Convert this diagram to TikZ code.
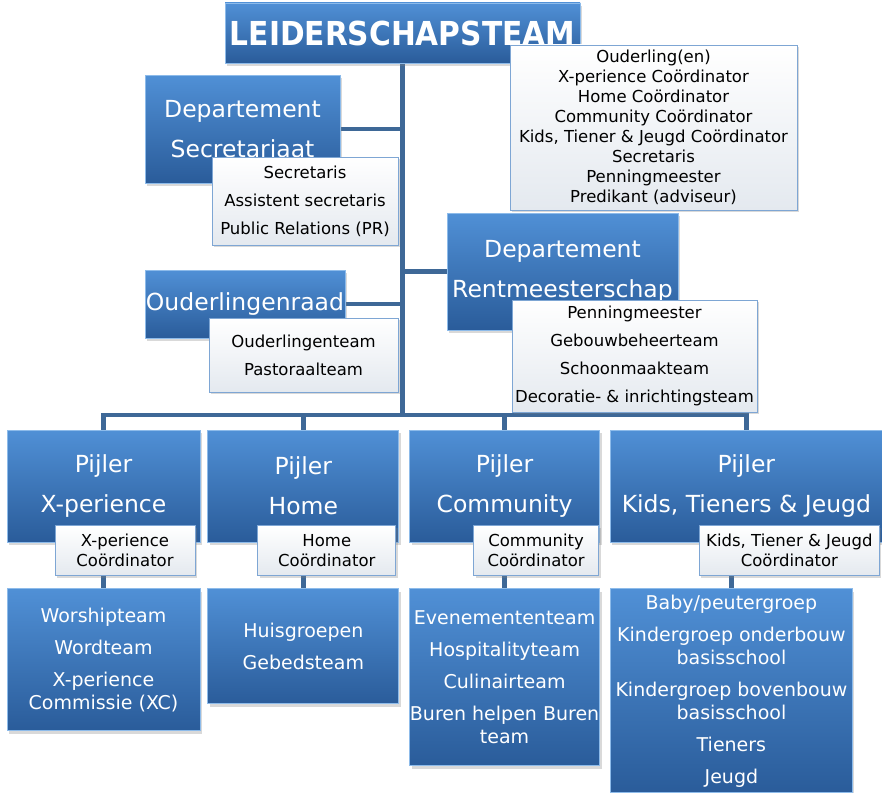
\documentclass[tikz,border=0pt]{standalone}
\usepackage{fontspec}
\setmainfont{DejaVu Sans}
\newfontfamily\smalfont{DejaVu Sans Condensed}
\usepackage{tikz}
\usetikzlibrary{positioning,shadows,backgrounds}
\definecolor{blueTop}{HTML}{5090D6}
\definecolor{blueBot}{HTML}{2A5C9A}
\definecolor{blueEdge}{HTML}{8DBBEA}
\definecolor{listBot}{HTML}{E4E9EF}
\definecolor{listEdge}{HTML}{7EA6D4}
\definecolor{lineCol}{HTML}{3E6897}

\begin{document}
\begin{tikzpicture}[x=1pt, y=1pt, node distance=7pt and 7pt,
  blok/.style={draw=blueEdge, line width=0.8pt, top color=blueTop, bottom color=blueBot,
    text=white, align=center, inner sep=0pt, font={\fontsize{23.5}{40}\selectfont},
    drop shadow={shadow xshift=2pt, shadow yshift=-3pt, opacity=0.3}},
  lijst/.style={draw=listEdge, line width=0.8pt, top color=white, bottom color=listBot,
    text=black, align=center, inner sep=0pt, font={\fontsize{16.5}{20}\selectfont},
    drop shadow={shadow xshift=2pt, shadow yshift=-2pt, opacity=0.3}},
  team/.style={blok, font={\fontsize{19}{23}\selectfont}},
  lijn/.style={line width=4.5pt, draw=lineCol, line join=miter}]
\useasboundingbox (0,0) rectangle (882,-792);
% top
\node[blok, minimum width=355pt, minimum height=60pt, font={\smalfont\fontsize{33}{40}\selectfont\bfseries}]
  (lead) at (402.5,-33) {LEIDERSCHAPSTEAM};
\node[lijst, minimum width=287pt, minimum height=165pt] (leadlist) at (653.5,-127.5)
  {Ouderling(en)\\X-perience Coördinator\\Home Coördinator\\Community Coördinator\\
   Kids, Tiener \& Jeugd Coördinator\\Secretaris\\Penningmeester\\Predikant (adviseur)};
% departementen
\node[blok, minimum width=195pt, minimum height=108pt] (sec) at (242.5,-129) {Departement\\Secretariaat};
\node[lijst, minimum width=186pt, minimum height=88pt] (seclist) at (305,-201)
  {Secretaris\\[8pt]Assistent secretaris\\[8pt]Public Relations (PR)};
\node[blok, minimum width=231pt, minimum height=117pt] (rent) at (562.5,-271.5) {Departement\\Rentmeesterschap};
\node[lijst, minimum width=245pt, minimum height=112pt] (rentlist) at (634.5,-356)
  {Penningmeester\\[8pt]Gebouwbeheerteam\\[8pt]Schoonmaakteam\\[8pt]Decoratie- \& inrichtingsteam};
\node[blok, minimum width=200pt, minimum height=68pt] (raad) at (245,-304) {Ouderlingenraad};
\node[lijst, minimum width=189pt, minimum height=74pt] (raadlist) at (303.5,-355)
  {Ouderlingenteam\\[8pt]Pastoraalteam};
% pijlers
\node[blok, minimum width=193pt, minimum height=112pt] (p1) at (103.5,-486) {Pijler\\X-perience};
\node[blok, minimum width=191pt, minimum height=112pt, right=7pt of p1] (p2) {Pijler\\Home};
\node[blok, minimum width=190pt, minimum height=112pt, right=10pt of p2] (p3) {Pijler\\Community};
\node[blok, minimum width=272pt, minimum height=112pt, right=10pt of p3] (p4) {Pijler\\Kids, Tieners \& Jeugd};
\node[lijst, minimum width=140pt, minimum height=50pt, anchor=north east] (c1)
  at ([xshift=-5pt, yshift=17pt]p1.south east) {X-perience\\Coördinator};
\node[lijst, minimum width=138pt, minimum height=50pt, anchor=north east] (c2)
  at ([xshift=-3pt, yshift=17pt]p2.south east) {Home\\Coördinator};
\node[lijst, minimum width=125pt, minimum height=50pt, anchor=north east] (c3)
  at ([xshift=-1pt, yshift=17pt]p3.south east) {Community\\Coördinator};
\node[lijst, minimum width=180pt, minimum height=50pt, anchor=north east] (c4)
  at ([xshift=-3pt, yshift=17pt]p4.south east) {Kids, Tiener \& Jeugd\\Coördinator};
% teams
\node[team, minimum width=193pt, minimum height=142pt, below=46pt of p1.south west, anchor=north west] (t1)
  {Worshipteam\\[9pt]Wordteam\\[9pt]X-perience\\Commissie (XC)};
\node[team, minimum width=191pt, minimum height=115pt, below=46pt of p2.south west, anchor=north west] (t2)
  {Huisgroepen\\[9pt]Gebedsteam};
\node[team, minimum width=190pt, minimum height=177pt, below=46pt of p3.south west, anchor=north west] (t3)
  {Evenemententeam\\[9pt]Hospitalityteam\\[9pt]Culinairteam\\[9pt]Buren helpen Buren\\team};
\node[team, minimum width=242pt, minimum height=204pt, below=46pt of p4.south west, anchor=north west] (t4)
  {Baby/peutergroep\\[9pt]Kindergroep onderbouw\\basisschool\\[9pt]Kindergroep bovenbouw\\basisschool\\[9pt]Tieners\\[9pt]Jeugd};
\coordinate (bar) at (lead.south |- 0,-415);
\begin{scope}[on background layer]
\draw[lijn] (lead.south) -- (bar);
\draw[lijn] (sec.east) -- (sec.east -| lead.south);
\draw[lijn] (rent.west) -- (rent.west -| lead.south);
\draw[lijn] (raad.east) -- (raad.east -| lead.south);
\foreach \p in {p1,p2,p3,p4}
  \draw[lijn] (bar) -| (\p.north);
\foreach \p/\t in {p1/t1,p2/t2,p3/t3,p4/t4}
  \draw[lijn] (\t.north) -- (\t.north |- \p.south);
\end{scope}
\end{tikzpicture}
\end{document}
